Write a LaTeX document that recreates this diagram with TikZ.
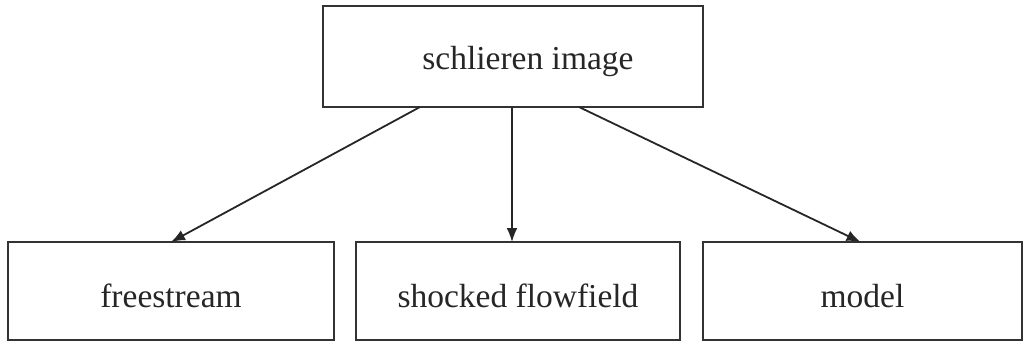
\documentclass[tikz,border=0pt]{standalone}
\usepackage{fontspec}
\setmainfont{Liberation Serif}
\usetikzlibrary{arrows.meta}
\begin{document}
\begin{tikzpicture}[x=1pt,y=-1pt,
  box/.style={draw=black!80,line width=1.9pt,inner sep=0pt,outer sep=0pt,
    font=\fontsize{33.5}{40}\selectfont,text=black!85},
  arr/.style={line width=1.8pt,draw=black!85,-{Latex[length=14pt,width=11pt]}}]
\useasboundingbox (0,0) rectangle (1025,343);
\node[box,minimum width=380pt,minimum height=101pt,text height=33pt,text depth=8pt] (top) at (513,56.5) {\hspace*{30pt}schlieren image};
\node[box,minimum width=326pt,minimum height=98pt,text height=40pt,text depth=8pt] (left) at (171,291) {freestream};
\node[box,minimum width=324pt,minimum height=98pt,text height=40pt,text depth=8pt] (mid) at (518,291) {shocked flowfield};
\node[box,minimum width=319pt,minimum height=98pt,text height=40pt,text depth=8pt] (right) at (862.5,291) {model};
\draw[arr] ([xshift=-93pt]top.south) -- (left.north);
\draw[arr] ([xshift=-1pt]top.south) -- ([xshift=-1pt]top.south |- mid.north);
\draw[arr] ([xshift=66pt]top.south) -- ([xshift=-2pt]right.north);
\end{tikzpicture}
\end{document}
